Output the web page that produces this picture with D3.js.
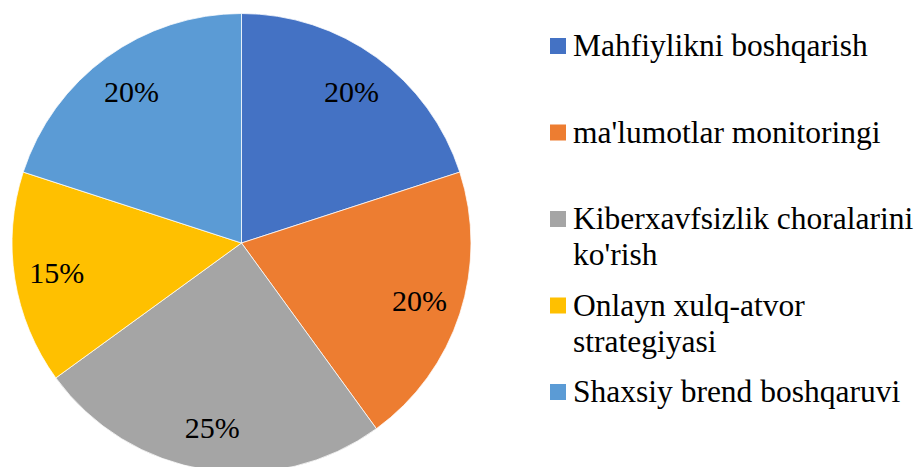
<!DOCTYPE html>
<html>
<head>
<meta charset="utf-8">
<script src="https://cdn.jsdelivr.net/npm/d3@7"></script>
<style>
  html, body { margin: 0; padding: 0; background: #ffffff; }
</style>
</head>
<body>
<div id="chart"></div>
<script>
// Chart data
const categories = [
  'Mahfiylikni boshqarish',
  "ma'lumotlar monitoringi",
  'Kiberxavfsizlik choralarini ko\'rish',
  'Onlayn xulq-atvor strategiyasi',
  'Shaxsiy brend boshqaruvi'
];
const values = [20, 20, 25, 15, 20];
const legendLines = [
  ['Mahfiylikni boshqarish'],
  ["ma'lumotlar monitoringi"],
  ['Kiberxavfsizlik choralarini', "ko'rish"],
  ['Onlayn xulq-atvor', 'strategiyasi'],
  ['Shaxsiy brend boshqaruvi']
];
const colors = ['#4472C4', '#ED7D31', '#A5A5A5', '#FFC000', '#5B9BD5'];

const width = 921, height = 467;
const cx = 241.5, cy = 243, radius = 229.5;
const labelSize = 30;
const legendSize = 31.5;
const fontFamily = "'Liberation Serif', 'Times New Roman', 'DejaVu Serif', serif";

const svg = d3.select('#chart').append('svg')
  .attr('width', width)
  .attr('height', height)
  .attr('viewBox', `0 0 ${width} ${height}`)
  .style('display', 'block');

const color = d3.scaleOrdinal().domain(categories).range(colors);

const pie = d3.pie().sort(null).value(d => d.value);
const data = categories.map((c, i) => ({ name: c, value: values[i] }));
const arcs = pie(data);

const arc = d3.arc().innerRadius(0).outerRadius(radius);
const labelArc = d3.arc().innerRadius(radius * 0.815).outerRadius(radius * 0.815);

const g = svg.append('g').attr('transform', `translate(${cx}, ${cy})`);

g.selectAll('path')
  .data(arcs)
  .join('path')
  .attr('d', arc)
  .attr('fill', d => color(d.data.name))
  .attr('stroke', '#ffffff')
  .attr('stroke-width', 0.75);

g.selectAll('text.pct')
  .data(arcs)
  .join('text')
  .attr('class', 'pct')
  .attr('transform', d => `translate(${labelArc.centroid(d)})`)
  .attr('text-anchor', 'middle')
  .attr('dy', '0.35em')
  .attr('font-family', fontFamily)
  .attr('font-size', labelSize + 'px')
  .attr('fill', '#000000')
  .text(d => d.data.value + '%');

// Legend
const legend = svg.append('g').attr('transform', 'translate(550, 56)');
const itemStep = 86.5;

const items = legend.selectAll('g.item')
  .data(categories)
  .join('g')
  .attr('class', 'item')
  .attr('transform', (d, i) => `translate(0, ${i * itemStep})`);

items.append('rect')
  .attr('x', 0)
  .attr('y', -18)
  .attr('width', 16)
  .attr('height', 16)
  .attr('fill', d => color(d));

items.append('text')
  .attr('x', 23)
  .attr('y', 0)
  .attr('font-family', fontFamily)
  .attr('font-size', legendSize + 'px')
  .attr('fill', '#000000')
  .selectAll('tspan')
  .data((d, i) => legendLines[i])
  .join('tspan')
  .attr('x', 23)
  .attr('dy', (d, j) => j === 0 ? 0 : 36)
  .text(d => d);
</script>
</body>
</html>
